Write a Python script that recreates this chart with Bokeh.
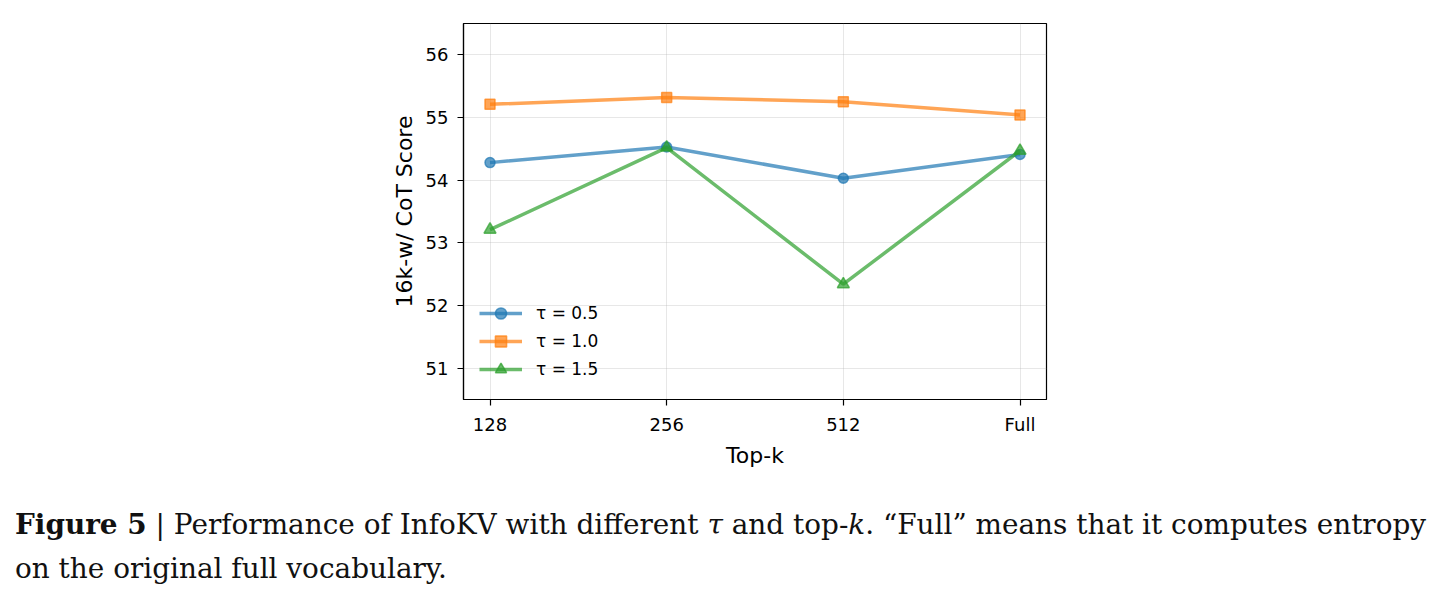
from bokeh.plotting import figure
from bokeh.models import Range1d, FixedTicker, Legend, LegendItem, Div
from bokeh.layouts import column
from bokeh.embed import file_html
from bokeh.resources import INLINE

# Top-k vocabulary sizes used for the entropy estimate
topk = ["128", "256", "512", "Full"]

# 16k-w/ CoT scores for each temperature
tau_labels = ["τ = 0.5", "τ = 1.0", "τ = 1.5"]
score_tau05 = [54.28, 54.53, 54.03, 54.41]
score_tau10 = [55.21, 55.32, 55.25, 55.04]
score_tau15 = [53.21, 54.52, 52.34, 54.47]

y_ticks = [51, 52, 53, 54, 55, 56]

xs = list(range(len(topk)))

FONT = "DejaVu Sans"

p = figure(
    width=1443, height=470,
    output_backend="svg", toolbar_location=None,
    x_range=Range1d(-0.15, len(topk) - 1 + 0.15),
    y_range=Range1d(50.5, 56.5),
    min_border_left=463, min_border_right=397,
    min_border_top=23, min_border_bottom=67,
    background_fill_color="white", border_fill_color="white",
)

p.outline_line_color = "black"
p.outline_line_width = 1.2
p.outline_line_alpha = 1.0

p.xaxis.ticker = FixedTicker(ticks=xs)
p.xaxis.major_label_overrides = {i: t for i, t in enumerate(topk)}
p.yaxis.ticker = FixedTicker(ticks=y_ticks)

for ax in (p.xaxis, p.yaxis):
    ax.axis_line_color = "black"
    ax.axis_line_width = 1.2
    ax.major_tick_in = 0
    ax.major_tick_out = 6
    ax.major_tick_line_color = "black"
    ax.major_tick_line_width = 1.2
    ax.minor_tick_line_color = None
    ax.major_label_text_font = FONT
    ax.major_label_text_font_size = "18px"
    ax.major_label_text_color = "black"
    ax.axis_label_text_font = FONT
    ax.axis_label_text_font_size = "22px"
    ax.axis_label_text_font_style = "normal"
    ax.axis_label_text_color = "black"

p.xaxis.axis_label = "Top-k"
p.yaxis.axis_label = "16k-w/ CoT Score"
p.xaxis.major_label_standoff = 8
p.xaxis.axis_label_standoff = 5
p.yaxis.major_label_standoff = 9
p.yaxis.axis_label_standoff = 6

p.grid.grid_line_color = "#b0b0b0"
p.grid.grid_line_alpha = 0.3
p.grid.grid_line_width = 1

series = [
    (tau_labels[0], score_tau05, "#1f77b4", "circle", 10),
    (tau_labels[1], score_tau10, "#ff7f0e", "square", 10),
    (tau_labels[2], score_tau15, "#2ca02c", "triangle", 12),
]

items = []
for label, ys, color, marker, size in series:
    ln = p.line(xs, ys, line_color=color, line_width=3.5, line_alpha=0.7)
    sc = p.scatter(xs, ys, marker=marker, size=size,
                   fill_color=color, fill_alpha=0.7,
                   line_color=color, line_alpha=0.7, line_width=1.5)
    items.append(LegendItem(label=label, renderers=[ln, sc]))

# legend markers scale with the glyph box, so use a taller box and no spacing
legend = Legend(
    items=items, location=(16, 16), orientation="vertical",
    glyph_width=43, glyph_height=28, label_height=28,
    label_standoff=14, spacing=0, padding=0, margin=0,
    border_line_alpha=0, background_fill_alpha=0,
    label_text_font=FONT, label_text_font_size="17px",
    label_text_color="black",
)
p.add_layout(legend)

caption_html = (
    '<div style="font-family:\'DejaVu Serif\'; font-size:27.9px; line-height:44px; '
    'color:#111; padding:33px 0 0 15px; white-space:nowrap;">'
    '<b>Figure 5</b> | Performance of InfoKV with different <i>τ</i> and top-<i>k</i>. '
    '“Full” means that it computes entropy<br>'
    'on the original full vocabulary.</div>'
)
caption = Div(text=caption_html, width=1443, height=131, margin=0)

layout = column(p, caption, spacing=0)

with open("out.html", "w") as f:
    f.write(file_html(layout, INLINE))
